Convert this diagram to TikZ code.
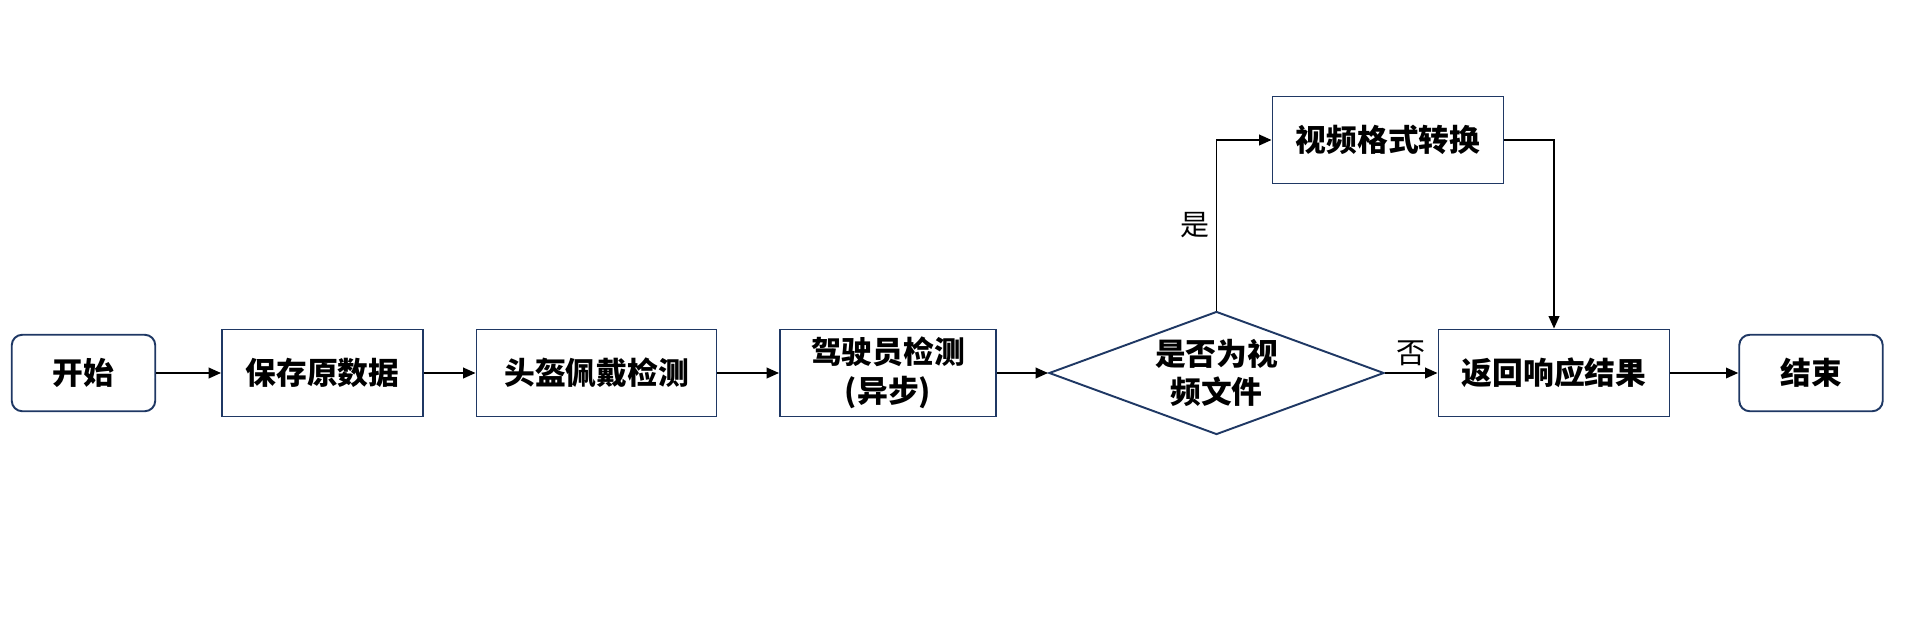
\documentclass[tikz,border=0pt]{standalone}
\usepackage{fontspec}
\setmainfont{Noto Sans CJK SC}
\usepackage{xcolor}
\usetikzlibrary{arrows.meta,positioning,shapes.geometric,calc}
\definecolor{boxblue}{HTML}{1F3864}
\tikzset{
    every picture/.style={font=\rmfamily},
    every node/.style={font=\rmfamily}
}

\begin{document}
\begin{tikzpicture}[
    terminal/.style={
        rectangle,
        rounded corners=6pt,
        draw=boxblue,
        line width=1.1pt,
        minimum width=2.87cm,
        minimum height=1.53cm,
        align=center,
        font=\fontsize{17.5}{22}\selectfont\bfseries
    },
    process/.style={
        rectangle,
        draw=boxblue,
        line width=1.1pt,
        minimum height=1.74cm,
        align=center,
        font=\fontsize{17.5}{22}\selectfont\bfseries
    },
    decision/.style={
        diamond,
        aspect=2.72,
        inner sep=0pt,
        draw=boxblue,
        line width=1.1pt,
        minimum width=6.7cm,
        minimum height=2.46cm,
        align=center,
        font=\fontsize{17.5}{22}\selectfont\bfseries
    },
    arrow/.style={
        ->,
        >={Triangle[length=7pt,width=6pt]},
        line width=1pt,
        color=black
    },
    label/.style={
        font=\fontsize{16.5}{20}\selectfont,
        color=black
    }
]
\useasboundingbox (0,7.46) rectangle (38.3,-5.2);

% Nodi principali
\node[terminal] (start) at (1.67,0) {开始};
\node[process, minimum width=4.02cm] (save) at (6.45,0) {保存原数据};
\node[process, minimum width=4.80cm] (helmet) at (11.93,0) {头盔佩戴检测};
\node[process, minimum width=4.32cm] (driver) at (17.76,0) {驾驶员检测\\(异步)};
\node[decision] (check) at (24.33,0) {是否为视\\频文件};
\node[process, minimum width=4.62cm] (convert) at (27.76,4.66) {视频格式转换};
\node[process, minimum width=4.62cm] (result) at (31.08,0) {返回响应结果};
\node[terminal] (end) at (36.22,0) {结束};

% Flusso principale
\draw[arrow] (start) -- (save);
\draw[arrow] (save) -- (helmet);
\draw[arrow] (helmet) -- (driver);
\draw[arrow] (driver) -- (check);
\draw[arrow] (check) -- node[label,above] {否} (result);
\draw[arrow] (result) -- (end);

% Ramo video
\draw[arrow] (check.north) |- node[label,left,pos=0.25] {是} (convert.west);
\draw[arrow] (convert.east) -| (result.north);

\end{tikzpicture}
\end{document}
